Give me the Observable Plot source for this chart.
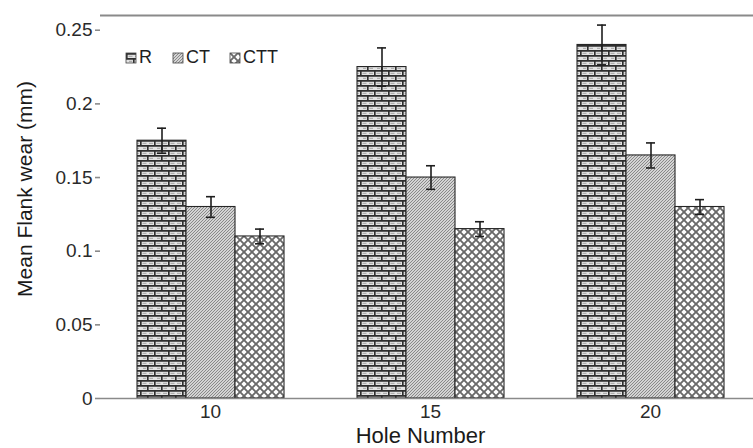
<!DOCTYPE html>
<html>
<head>
<meta charset="utf-8">
<script src="https://cdn.jsdelivr.net/npm/d3@7"></script>
<script src="https://cdn.jsdelivr.net/npm/@observablehq/plot@0.6"></script>
<style>
  html, body { margin: 0; padding: 0; background: #fff; overflow: hidden; }
</style>
</head>
<body>
<div id="chart"></div>
<script>
// Mean flank wear per hole number for each treatment, with error bars
const holes = [10, 15, 20];
const treatments = ["R", "CT", "CTT"];
const meanR = [0.175, 0.225, 0.24];
const meanCT = [0.13, 0.15, 0.165];
const meanCTT = [0.11, 0.115, 0.13];
const errR = [0.0085, 0.013, 0.0135];
const errCT = [0.007, 0.008, 0.0085];
const errCTT = [0.005, 0.005, 0.005];
const yTicks = [0, 0.05, 0.1, 0.15, 0.2, 0.25];
const yMax = 0.26;
const xTitle = "Hole Number";
const yTitle = "Mean Flank wear (mm)";

// Fill patterns for the three treatments (defined in <defs> below)
const patternFills = ["url(#brick)", "url(#hatch)", "url(#lattice)"];

const means = { R: meanR, CT: meanCT, CTT: meanCTT };
const errs = { R: errR, CT: errCT, CTT: errCTT };
const rows = holes.flatMap((hole, i) =>
  treatments.map(t => ({
    hole,
    t,
    mean: means[t][i],
    lo: means[t][i] - errs[t][i],
    hi: means[t][i] + errs[t][i]
  }))
);

const font = "'Liberation Sans', Arial, Helvetica, sans-serif";

const chart = Plot.plot({
  width: 768,
  height: 448,
  marginLeft: 100,
  marginRight: 8,
  marginTop: 15,
  marginBottom: 50,
  style: { fontFamily: font, background: "#fff", maxWidth: "none", overflow: "visible" },
  fx: { domain: holes, padding: 0 },
  x: { domain: treatments, paddingInner: 0, paddingOuter: 0.7, axis: null },
  y: { domain: [0, yMax] },
  color: { domain: treatments, range: patternFills },
  marks: [
    Plot.barY(rows, { fx: "hole", x: "t", y: "mean", fill: "t", stroke: "#262626", strokeWidth: 1.1 }),
    Plot.ruleX(rows, { fx: "hole", x: "t", y1: "lo", y2: "hi", stroke: "#1e1e1e", strokeWidth: 1.6 }),
    Plot.tickY(rows, { fx: "hole", x: "t", y: "hi", inset: 20, stroke: "#1e1e1e", strokeWidth: 1.6 }),
    Plot.tickY(rows, { fx: "hole", x: "t", y: "lo", inset: 20, stroke: "#1e1e1e", strokeWidth: 1.6 }),
    Plot.ruleY([0], { stroke: "#8a8a8a", strokeWidth: 1.6 }),
    Plot.ruleY([yMax], { stroke: "#8a8a8a", strokeWidth: 2 }),
    Plot.axisY({
      ticks: yTicks,
      tickFormat: d => `${d}`,
      tickSize: 5,
      tickPadding: 3,
      fontSize: 19,
      label: null,
      line: true,
      stroke: "#8a8a8a",
      strokeWidth: 1.6,
      fill: "#2a2a2a"
    }),
    Plot.axisFx({
      anchor: "bottom",
      tickSize: 0,
      tickPadding: 6,
      fontSize: 19,
      label: null,
      fill: "#2a2a2a"
    }),
    Plot.text([yTitle], {
      fx: () => holes[0],
      text: d => d,
      frameAnchor: "left",
      textAnchor: "middle",
      rotate: -90,
      dx: -75,
      dy: -18,
      fontSize: 21,
      fill: "#1a1a1a"
    }),
    Plot.text([xTitle], {
      fx: () => holes[1],
      text: d => d,
      frameAnchor: "bottom",
      textAnchor: "middle",
      lineAnchor: "bottom",
      dx: -10,
      dy: 44,
      fontSize: 22,
      fill: "#1a1a1a"
    })
  ]
});

// Pattern definitions
const svg = d3.select(chart);
const defs = svg.insert("defs", ":first-child");

const brick = defs.append("pattern")
  .attr("id", "brick").attr("patternUnits", "userSpaceOnUse")
  .attr("width", 14).attr("height", 10);
brick.append("rect").attr("width", 14).attr("height", 10).attr("fill", "#e4e4e4");
brick.append("path")
  .attr("d", "M0,0.8H14M0,5.8H14M0.8,0V5.8M7.8,5.8V10")
  .attr("stroke", "#2e2e2e").attr("stroke-width", 1.7).attr("fill", "none");
brick.append("path")
  .attr("d", "M2.5,3.3H6.5M9,3.3H13M3,8.3H6M9.5,8.3H13")
  .attr("stroke", "#9a9a9a").attr("stroke-width", 0.9).attr("fill", "none");

const hatch = defs.append("pattern")
  .attr("id", "hatch").attr("patternUnits", "userSpaceOnUse")
  .attr("width", 3).attr("height", 3);
hatch.append("rect").attr("width", 3).attr("height", 3).attr("fill", "#d4d4d4");
hatch.append("path")
  .attr("d", "M0,3L3,0M-1,1L1,-1M2,4L4,2")
  .attr("stroke", "#767676").attr("stroke-width", 0.8).attr("fill", "none");

const lattice = defs.append("pattern")
  .attr("id", "lattice").attr("patternUnits", "userSpaceOnUse")
  .attr("width", 8).attr("height", 8);
lattice.append("rect").attr("width", 8).attr("height", 8).attr("fill", "#ffffff");
lattice.append("path")
  .attr("d", "M0,0L8,8M8,0L0,8")
  .attr("stroke", "#6a6a6a").attr("stroke-width", 1.9).attr("fill", "none");

// Legend inside the plot frame, top left
const legend = svg.append("g")
  .attr("font-family", font)
  .attr("font-size", 18)
  .attr("text-anchor", "start")
  .attr("fill", "#1e1e1e");
const legendX = [126, 173, 230];
treatments.forEach((t, i) => {
  const g = legend.append("g").attr("transform", `translate(${legendX[i]},53)`);
  g.append("rect").attr("width", 10).attr("height", 10)
    .attr("fill", patternFills[i]).attr("stroke", "#444").attr("stroke-width", 0.8);
  g.append("text").attr("x", 13).attr("y", 10).text(t);
});

document.getElementById("chart").append(chart);
</script>
</body>
</html>
